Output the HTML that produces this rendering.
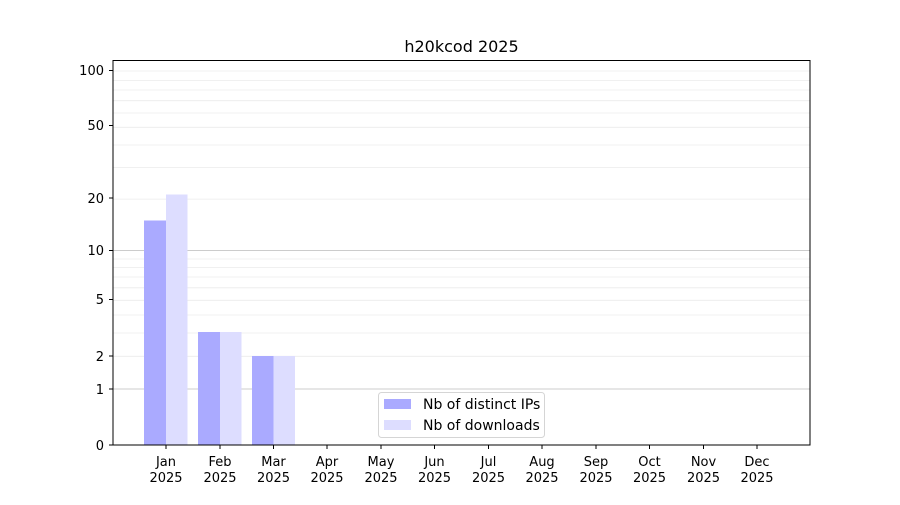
<!DOCTYPE html>
<html><head><style>body{margin:0;background:#fff}text{font-family:"DejaVu Sans","Liberation Sans",sans-serif;font-size:13px;fill:#000}</style></head>
<body>
<svg width="900" height="500" xmlns="http://www.w3.org/2000/svg">
<rect width="900" height="500" fill="#fff"/>
<g stroke="#ebebeb" stroke-width="0.8">
<line x1="113" x2="810" y1="356.3" y2="356.3"/><line x1="113" x2="810" y1="333" y2="333"/>
<line x1="113" x2="810" y1="315" y2="315"/><line x1="113" x2="810" y1="300.3" y2="300.3"/>
<line x1="113" x2="810" y1="287.8" y2="287.8"/><line x1="113" x2="810" y1="277" y2="277"/>
<line x1="113" x2="810" y1="267.5" y2="267.5"/><line x1="113" x2="810" y1="259" y2="259"/>
<line x1="113" x2="810" y1="199.1" y2="199.1"/><line x1="113" x2="810" y1="167.6" y2="167.6"/>
<line x1="113" x2="810" y1="145" y2="145"/><line x1="113" x2="810" y1="127.3" y2="127.3"/>
<line x1="113" x2="810" y1="113" y2="113"/><line x1="113" x2="810" y1="100.7" y2="100.7"/>
<line x1="113" x2="810" y1="90" y2="90"/><line x1="113" x2="810" y1="80.6" y2="80.6"/>
<line x1="113" x2="810" y1="71" y2="71"/>
</g>
<g stroke="#cccccc" stroke-width="1">
<line x1="113" x2="810" y1="389" y2="389"/><line x1="113" x2="810" y1="250.5" y2="250.5"/>
</g>
<g>
<rect x="144" y="220.5" width="22" height="224.5" fill="#aaaaff"/>
<rect x="166" y="194.5" width="21.5" height="250.5" fill="#ddddff"/>
<rect x="198" y="332" width="22" height="113" fill="#aaaaff"/>
<rect x="220" y="332" width="21.5" height="113" fill="#ddddff"/>
<rect x="252" y="356" width="21.5" height="89" fill="#aaaaff"/>
<rect x="273.5" y="356" width="21.5" height="89" fill="#ddddff"/>
</g>
<rect x="113" y="60.5" width="697" height="384.5" fill="none" stroke="#000" stroke-width="1"/>
<g stroke="#000">
<line x1="109" x2="113" y1="445" y2="445"/><line x1="109" x2="113" y1="389" y2="389"/>
<line x1="109" x2="113" y1="356" y2="356"/><line x1="109" x2="113" y1="299.5" y2="299.5"/>
<line x1="109" x2="113" y1="250.5" y2="250.5"/><line x1="109" x2="113" y1="198" y2="198"/>
<line x1="109" x2="113" y1="125.5" y2="125.5"/><line x1="109" x2="113" y1="70.5" y2="70.5"/>
</g>
<g text-anchor="end">
<text x="104" y="450">0</text><text x="104" y="394">1</text><text x="104" y="361">2</text>
<text x="104" y="304">5</text><text x="104" y="255">10</text><text x="104" y="203">20</text>
<text x="104" y="130">50</text><text x="104" y="75">100</text>
</g>
<g stroke="#000">
<line x1="166" x2="166" y1="445" y2="449"/><line x1="220" x2="220" y1="445" y2="449"/>
<line x1="273.5" x2="273.5" y1="445" y2="449"/><line x1="327" x2="327" y1="445" y2="449"/>
<line x1="381" x2="381" y1="445" y2="449"/><line x1="434.5" x2="434.5" y1="445" y2="449"/>
<line x1="488.5" x2="488.5" y1="445" y2="449"/><line x1="542" x2="542" y1="445" y2="449"/>
<line x1="596" x2="596" y1="445" y2="449"/><line x1="649.5" x2="649.5" y1="445" y2="449"/>
<line x1="703.5" x2="703.5" y1="445" y2="449"/><line x1="757" x2="757" y1="445" y2="449"/>
</g>
<g text-anchor="middle">
<text x="166" y="466">Jan</text><text x="166" y="482">2025</text>
<text x="220" y="466">Feb</text><text x="220" y="482">2025</text>
<text x="273.5" y="466">Mar</text><text x="273.5" y="482">2025</text>
<text x="327" y="466">Apr</text><text x="327" y="482">2025</text>
<text x="381" y="466">May</text><text x="381" y="482">2025</text>
<text x="434.5" y="466">Jun</text><text x="434.5" y="482">2025</text>
<text x="488.5" y="466">Jul</text><text x="488.5" y="482">2025</text>
<text x="542" y="466">Aug</text><text x="542" y="482">2025</text>
<text x="596" y="466">Sep</text><text x="596" y="482">2025</text>
<text x="649.5" y="466">Oct</text><text x="649.5" y="482">2025</text>
<text x="703.5" y="466">Nov</text><text x="703.5" y="482">2025</text>
<text x="757" y="466">Dec</text><text x="757" y="482">2025</text>
<text x="461.5" y="52" style="font-size:16px">h20kcod 2025</text>
</g>
<rect x="378.5" y="392.5" width="166" height="45" rx="3" fill="#fff" fill-opacity="0.8" stroke="#d5d5d5"/>
<rect x="384" y="399" width="27" height="10" fill="#aaaaff"/>
<rect x="384" y="420" width="27" height="10" fill="#ddddff"/>
<text x="423" y="409" style="font-size:14px">Nb of distinct IPs</text>
<text x="423" y="430" style="font-size:14px">Nb of downloads</text>
</svg>
</body></html>
